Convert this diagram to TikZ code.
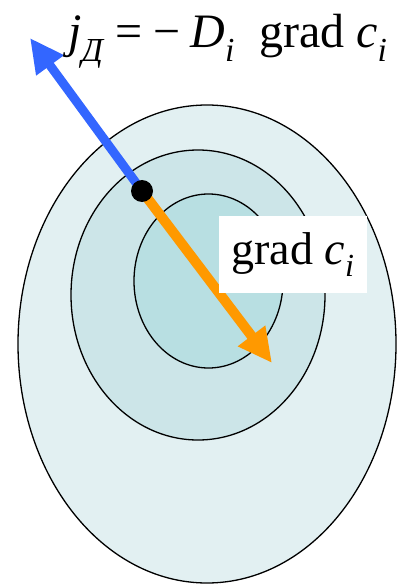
\documentclass[tikz,border=0pt]{standalone}
\usepackage{amsmath}
\usepackage{fontspec}
\setmainfont{Liberation Serif}
\usetikzlibrary{arrows.meta}
\definecolor{zoneA}{HTML}{E2F0F2}
\definecolor{zoneB}{HTML}{CCE5E8}
\definecolor{zoneC}{HTML}{B8DFE2}
\definecolor{jb}{HTML}{3366FF}
\definecolor{go}{HTML}{FF9900}

\begin{document}
\begin{tikzpicture}[x=1pt,y=-1pt,font=\fontsize{46}{52}\selectfont,
  zone/.style={draw=black,line width=1.3pt},
  flux/.style={-{Triangle[length=34pt,width=32pt]},line width=9pt,draw=jb},
  grad/.style={-{Triangle[length=34pt,width=32pt]},line width=10pt,draw=go},
  lbl/.style={fill=white,inner sep=0pt,minimum width=148pt,minimum height=77pt}]
  \useasboundingbox (0,0) rectangle (401,585);
  % concentration zones
  \draw[zone,fill=zoneA] (207,344) ellipse [x radius=189,y radius=239];
  \draw[zone,fill=zoneB] (198,295) ellipse [x radius=127,y radius=145];
  \draw[zone,fill=zoneC] (208.5,281) ellipse [x radius=74.5,y radius=87];
  \node[circle,inner sep=0pt,minimum size=22pt] (src) at (142,191) {};
  \coordinate (fluxtip) at (30,38);
  \coordinate (gradtip) at (272,363);
  \draw[flux] (src.center) -- (fluxtip);
  \draw[grad] (src.center) -- (gradtip);
  \fill[black] (src) circle [radius=11pt];
  \node[lbl] (gradlbl) at (293,254.5) {grad \textit{c}$_{\textit{i}}$};
  \node[anchor=base west,inner sep=0pt,font=\fontsize{48}{52}\selectfont] (law) at (68,48)
    {$\textit{j}_{\textit{Д}}$\hspace{12pt}=\hspace{11pt}−\hspace{10pt}\textit{D}$_{\textit{i}}$\hspace{24pt}grad \textit{c}$_{\textit{i}}$};
\end{tikzpicture}
\end{document}
